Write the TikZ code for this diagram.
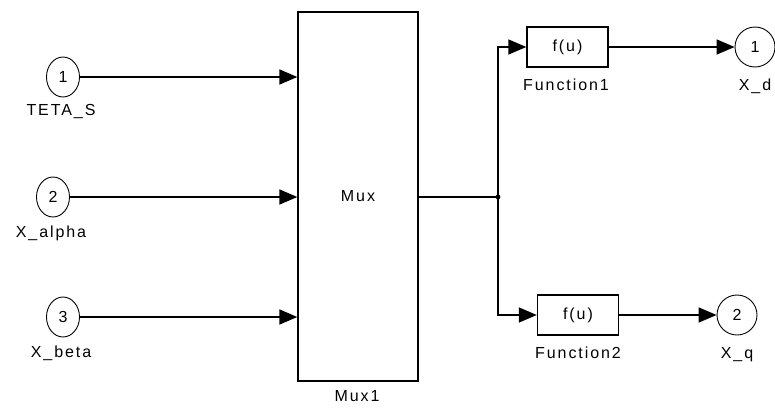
\documentclass[tikz,border=0pt]{standalone}
\usepackage{fontspec}
\newfontfamily\slfont{Liberation Sans}[LetterSpace=12]
\usetikzlibrary{arrows.meta,shapes.geometric}
\begin{document}
\begin{tikzpicture}[x=1pt,y=-1pt,
  txt/.style={font=\slfont\fontsize{16}{19}\selectfont},
  wire/.style={line width=1.5pt},
  arr/.style={wire,-{Triangle[length=18pt,width=15pt]}},
  blk/.style={draw,line width=1.4pt,inner sep=0pt,txt},
  inport/.style={draw,ellipse,line width=0.9pt,minimum width=33pt,minimum height=40pt,inner sep=0pt,txt},
  outport/.style={draw,circle,line width=0.9pt,minimum size=40pt,inner sep=0pt,txt},
  lbl/.style={anchor=base,inner sep=0pt,txt}
]
\useasboundingbox (0,0) rectangle (775,407);
% inports
\node[inport] (p1) at (63,77) {1};
\node[inport] (p2) at (53,197) {2};
\node[inport] (p3) at (63,317) {3};
\node[lbl] (l1) at (61,115) {TETA\_S};
\node[lbl] (l2) at (51,237) {X\_alpha};
\node[lbl] (l3) at (61,357) {X\_beta};
% mux
\node[blk,minimum width=120pt,minimum height=369pt] (mux) at (358,196.5) {Mux};
\node[lbl] (lm) at (357,401) {Mux1};
% functions
\node[blk,minimum width=81pt,minimum height=40pt] (f1) at (567.5,47) {f(u)};
\node[blk,minimum width=81pt,minimum height=40pt] (f2) at (578,315) {f(u)};
\node[lbl] (lf1) at (566,90) {Function1};
\node[lbl] (lf2) at (578,358) {Function2};
% outports
\node[outport] (o1) at (755,47) {1};
\node[outport] (o2) at (737,315) {2};
\node[lbl] (lo1) at (755,90) {X\_d};
\node[lbl] (lo2) at (737,358) {X\_q};
% wires
\draw[arr] (p1.east) -- (p1.east -| mux.west);
\draw[arr] (p2.east) -- (p2.east -| mux.west);
\draw[arr] (p3.east) -- (p3.east -| mux.west);
\coordinate (j) at (498,197);
\draw[wire] (mux.east |- j) -- (j);
\fill (j) circle (2.4pt);
\draw[arr] (j) |- (f1.west);
\draw[arr] (j) |- (f2.west);
\draw[arr] (f1.east) -- (o1.west);
\draw[arr] (f2.east) -- (o2.west);
\end{tikzpicture}
\end{document}
